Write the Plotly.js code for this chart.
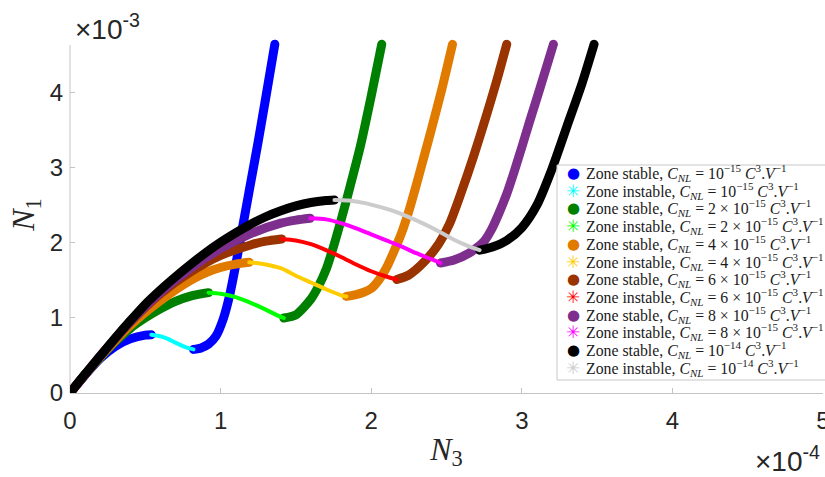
<!DOCTYPE html>
<html>
<head>
<meta charset="utf-8">
<script src="https://cdn.plot.ly/plotly-3.0.1.min.js"></script>
<style>
html,body{margin:0;padding:0;background:#fff;}
#chart{width:825px;height:477px;}
.scatterlayer .js-line{stroke-linecap:round !important;stroke-linejoin:round !important;}
</style>
</head>
<body>
<div id="chart"></div>
<script>
// Values: N3 in units of 1e-4, N1 in units of 1e-3
// C_NL = 1e-15
const c1_s1_x = [0, 0.1, 0.2, 0.3, 0.4, 0.5, 0.54];
const c1_s1_y = [0, 0.24, 0.46, 0.62, 0.72, 0.77, 0.775];
const c1_u_x  = [0.54, 0.6, 0.65, 0.7, 0.75, 0.8, 0.82];
const c1_u_y  = [0.775, 0.755, 0.72, 0.67, 0.625, 0.59, 0.58];
const c1_s2_x = [0.82, 0.87, 0.92, 0.97, 1.02, 1.06, 1.1, 1.15, 1.2, 1.25, 1.3, 1.36];
const c1_s2_y = [0.58, 0.6, 0.65, 0.76, 1.0, 1.3, 1.7, 2.25, 2.8, 3.35, 3.93, 4.64];
// C_NL = 2e-15
const c2_s1_x = [0, 0.1, 0.2, 0.3, 0.4, 0.5, 0.6, 0.7, 0.8, 0.92];
const c2_s1_y = [0, 0.245, 0.47, 0.68, 0.86, 1.0, 1.12, 1.22, 1.29, 1.335];
const c2_u_x  = [0.92, 1.0, 1.1, 1.2, 1.3, 1.37, 1.42];
const c2_u_y  = [1.335, 1.32, 1.275, 1.2, 1.11, 1.04, 0.998];
const c2_s2_x = [1.42, 1.5, 1.6, 1.65, 1.7, 1.75, 1.8, 1.86, 1.93, 2.0, 2.07];
const c2_s2_y = [0.998, 1.04, 1.25, 1.42, 1.64, 1.95, 2.3, 2.75, 3.3, 3.95, 4.64];
// C_NL = 4e-15
const c4_s1_x = [0, 0.1, 0.2, 0.4, 0.6, 0.8, 0.9, 1.0, 1.1, 1.19];
const c4_s1_y = [0, 0.245, 0.48, 0.9, 1.23, 1.5, 1.6, 1.67, 1.715, 1.74];
const c4_u_x  = [1.19, 1.3, 1.4, 1.5, 1.6, 1.7, 1.8, 1.835];
const c4_u_y  = [1.74, 1.71, 1.66, 1.56, 1.47, 1.38, 1.3, 1.285];
const c4_s2_x = [1.835, 1.9, 1.95, 2.0, 2.05, 2.1, 2.15, 2.2, 2.25, 2.3, 2.35, 2.4, 2.47, 2.54];
const c4_s2_y = [1.285, 1.31, 1.34, 1.39, 1.5, 1.66, 1.88, 2.12, 2.42, 2.77, 3.14, 3.51, 4.05, 4.64];
// C_NL = 6e-15
const c6_s1_x = [0, 0.1, 0.2, 0.4, 0.6, 0.8, 1.0, 1.2, 1.3, 1.405];
const c6_s1_y = [0, 0.245, 0.49, 0.94, 1.32, 1.61, 1.83, 1.97, 2.02, 2.05];
const c6_u_x  = [1.405, 1.5, 1.6, 1.7, 1.8, 1.9, 2.0, 2.1, 2.17];
const c6_u_y  = [2.05, 2.03, 1.98, 1.9, 1.81, 1.71, 1.62, 1.55, 1.51];
const c6_s2_x = [2.17, 2.25, 2.35, 2.45, 2.52, 2.6, 2.68, 2.76, 2.83, 2.9];
const c6_s2_y = [1.51, 1.57, 1.74, 1.99, 2.25, 2.68, 3.15, 3.66, 4.13, 4.64];
// C_NL = 8e-15
const c8_s1_x = [0, 0.1, 0.2, 0.4, 0.6, 0.8, 1.0, 1.2, 1.4, 1.5, 1.595];
const c8_s1_y = [0, 0.245, 0.49, 0.95, 1.34, 1.66, 1.92, 2.12, 2.26, 2.3, 2.325];
const c8_u_x  = [1.595, 1.7, 1.8, 1.9, 2.0, 2.1, 2.2, 2.3, 2.4, 2.46];
const c8_u_y  = [2.325, 2.31, 2.26, 2.19, 2.11, 2.03, 1.95, 1.86, 1.78, 1.73];
const c8_s2_x = [2.46, 2.55, 2.65, 2.75, 2.8, 2.85, 2.9, 2.95, 3.0, 3.05, 3.12, 3.21];
const c8_s2_y = [1.73, 1.77, 1.86, 2.02, 2.18, 2.4, 2.65, 2.95, 3.27, 3.6, 4.05, 4.64];
// C_NL = 1e-14
const c10_s1_x = [0, 0.1, 0.2, 0.3, 0.4, 0.5, 0.6, 0.7, 0.8, 0.9, 1.0, 1.1, 1.2, 1.3, 1.4, 1.5, 1.6, 1.7, 1.756];
const c10_s1_y = [0, 0.25, 0.49, 0.73, 0.96, 1.18, 1.37, 1.545, 1.71, 1.865, 2.005, 2.13, 2.245, 2.345, 2.425, 2.49, 2.535, 2.56, 2.567];
const c10_u_x  = [1.756, 1.85, 1.95, 2.05, 2.15, 2.25, 2.35, 2.45, 2.55, 2.65, 2.72];
const c10_u_y  = [2.567, 2.56, 2.53, 2.48, 2.42, 2.34, 2.25, 2.15, 2.04, 1.95, 1.9];
const c10_s2_x = [2.72, 2.8, 2.9, 3.0, 3.1, 3.2, 3.3, 3.4, 3.48];
const c10_s2_y = [1.9, 1.94, 2.03, 2.2, 2.5, 2.98, 3.55, 4.12, 4.64];

const curveNames = ['10<sup>−15</sup>', '2 × 10<sup>−15</sup>', '4 × 10<sup>−15</sup>',
                    '6 × 10<sup>−15</sup>', '8 × 10<sup>−15</sup>', '10<sup>−14</sup>'];
const stableColors   = ['#0000ff', '#008000', '#e07b00', '#993300', '#7e2f8e', '#000000'];
const unstableColors = ['#00ffff', '#00ff00', '#ffcc00', '#ff0000', '#ff00ff', '#cccccc'];
const xTicks = [0, 1, 2, 3, 4, 5];
const yTicks = [0, 1, 2, 3, 4];

const curves = [
  [c1_s1_x, c1_s1_y, c1_u_x, c1_u_y, c1_s2_x, c1_s2_y],
  [c2_s1_x, c2_s1_y, c2_u_x, c2_u_y, c2_s2_x, c2_s2_y],
  [c4_s1_x, c4_s1_y, c4_u_x, c4_u_y, c4_s2_x, c4_s2_y],
  [c6_s1_x, c6_s1_y, c6_u_x, c6_u_y, c6_s2_x, c6_s2_y],
  [c8_s1_x, c8_s1_y, c8_u_x, c8_u_y, c8_s2_x, c8_s2_y],
  [c10_s1_x, c10_s1_y, c10_u_x, c10_u_y, c10_s2_x, c10_s2_y]
];

const label = (kind, i) =>
  'Zone ' + kind + ', <i>C</i><sub><i>NL</i></sub> = ' + curveNames[i] +
  ' <i>C</i><sup>3</sup>.<i>V</i><sup>−1</sup>';

const traces = [];
curves.forEach((c, i) => {
  traces.push({
    x: c[0].concat([null], c[4]), y: c[1].concat([null], c[5]),
    type: 'scatter', mode: 'lines', showlegend: false, hoverinfo: 'skip',
    name: label('stable', i),
    line: {color: stableColors[i], width: 9, shape: 'spline', smoothing: 0.7}
  });
  traces.push({
    x: c[2], y: c[3],
    type: 'scatter', mode: 'lines', showlegend: false, hoverinfo: 'skip',
    name: label('instable', i),
    line: {color: unstableColors[i], width: 4, shape: 'spline', smoothing: 0.7}
  });
});

// Layout geometry (pixels)
const W = 825, H = 477, mL = 70, mR = 2, mT = 36, mB = 84;
const plotW = W - mL - mR, plotH = H - mT - mB;
const px2x = p => (p - mL) / plotW;
const py2y = p => (H - mB - p) / plotH;

const axisCol = '#c4c4c4';
const tickCol = '#262626';
const sansFont = 'Liberation Sans, Arial, sans-serif';
const serifFont = 'Liberation Serif, serif';

// Custom legend (annotations) inside a bordered box
const annotations = [];
const legendTop = 173, legendStep = 17.7;
for (let r = 0; r < 12; r++) {
  const i = Math.floor(r / 2), stable = (r % 2 === 0);
  const yy = py2y(legendTop + legendStep * r);
  annotations.push({
    xref: 'paper', yref: 'paper', x: px2x(573), y: yy, xanchor: 'center', yanchor: 'middle',
    text: stable ? '●' : '✳', showarrow: false,
    font: {family: 'DejaVu Sans, sans-serif', size: stable ? 15 : 17,
           color: stable ? stableColors[i] : unstableColors[i]}
  });
  annotations.push({
    xref: 'paper', yref: 'paper', x: px2x(584), y: yy, xanchor: 'left', yanchor: 'middle',
    text: label(stable ? 'stable' : 'instable', i), showarrow: false,
    font: {family: serifFont, size: 15.8, color: '#1a1a1a'}
  });
}
annotations.push({xref: 'paper', yref: 'paper', x: px2x(73), y: py2y(27), xanchor: 'left', yanchor: 'middle',
  text: '×10<sup>-3</sup>', showarrow: false, font: {family: sansFont, size: 28, color: tickCol}});
annotations.push({xref: 'paper', yref: 'paper', x: px2x(822), y: py2y(459), xanchor: 'right', yanchor: 'middle',
  text: '×10<sup>-4</sup>', showarrow: false, font: {family: sansFont, size: 28, color: tickCol}});

const layout = {
  width: W, height: H,
  margin: {l: mL, r: mR, t: mT, b: mB},
  paper_bgcolor: '#ffffff', plot_bgcolor: '#ffffff',
  showlegend: false,
  xaxis: {
    range: [0, 5], tickvals: xTicks, ticktext: xTicks.map(String),
    showgrid: false, zeroline: false, showline: true, linecolor: axisCol, linewidth: 1,
    ticks: 'inside', ticklen: 5, tickcolor: axisCol, ticklabelstandoff: 6, ticklabeloverflow: 'allow',
    tickfont: {family: sansFont, size: 24, color: tickCol},
    title: {text: '<i>N</i><sub>3</sub>', font: {family: serifFont, size: 32, color: tickCol}, standoff: 4}
  },
  yaxis: {
    range: [0, 4.75], tickvals: yTicks, ticktext: yTicks.map(String),
    showgrid: false, zeroline: false, showline: false,
    ticks: 'inside', ticklen: 5, tickcolor: axisCol, ticklabelstandoff: 6,
    tickfont: {family: sansFont, size: 24, color: tickCol},
    title: {text: '<i>N</i><sub>1</sub>', font: {family: serifFont, size: 32, color: tickCol}, standoff: 5}
  },
  shapes: [
    {type: 'line', xref: 'paper', yref: 'y', x0: 0, x1: 0, y0: 0, y1: 4.63, layer: 'below',
     line: {color: axisCol, width: 1}},
    {type: 'rect', xref: 'paper', yref: 'paper', layer: 'above',
     x0: px2x(557), x1: px2x(840), y0: py2y(380), y1: py2y(165),
     line: {color: '#c8c8c8', width: 1}, fillcolor: '#ffffff'}
  ],
  annotations: annotations
};

Plotly.newPlot('chart', traces, layout, {staticPlot: true, displayModeBar: false});
</script>
</body>
</html>
